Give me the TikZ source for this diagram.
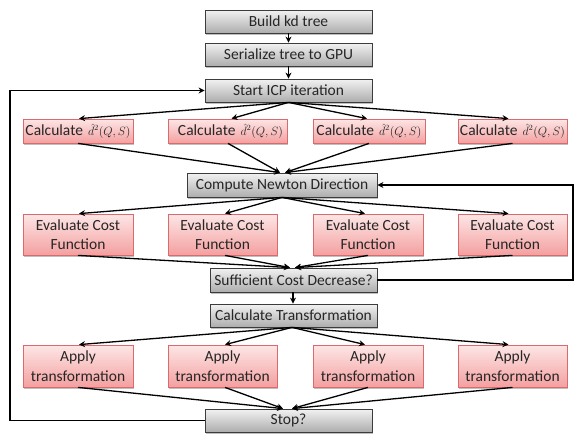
\documentclass[tikz,border=0pt]{standalone}
\usepackage{fontspec}
\setmainfont{Carlito}
\usetikzlibrary{arrows.meta,shadows}
\definecolor{gtop}{HTML}{F2F2F2}
\definecolor{gbot}{HTML}{ADADAD}
\definecolor{gline}{HTML}{3C3C3C}
\definecolor{rtop}{HTML}{FDE6E6}
\definecolor{rbot}{HTML}{F4A0A0}
\definecolor{rline}{HTML}{DA6A6C}
\definecolor{txt}{HTML}{262626}
\newcommand{\dqs}{{\fontsize{11.5}{13}\selectfont$\hat{d}^{2}(Q,S)$}}
\begin{document}
\begin{tikzpicture}[x=1pt,y=-1pt,
  base/.style={rectangle, inner sep=0pt, align=center, text=txt,
    font=\fontsize{15.5}{19.5}\selectfont,
    drop shadow={shadow xshift=1.2pt, shadow yshift=-1.5pt, fill=black, opacity=0.25}},
  gbox/.style={base, draw=gline, line width=0.8pt, top color=gtop, bottom color=gbot,
    minimum width=167pt, minimum height=23pt},
  rbox/.style={base, draw=rline, line width=0.8pt, top color=rtop, bottom color=rbot,
    minimum height=24pt},
  rbig/.style={rbox, minimum height=41pt},
  arr/.style={draw=black, line width=1.3pt, -{Stealth[length=6pt,width=6pt]}}]
\useasboundingbox (0,0) rectangle (574,434);

% gray boxes
\node[gbox] (build)  at (288.5,21.5) {Build kd tree};
\node[gbox] (serial) at (288.5,54.5) {Serialize tree to GPU};
\node[gbox] (start)  at (288.5,90.5) {Start ICP iteration};
\node[gbox, minimum width=190pt, minimum height=24pt] (newton) at (282,185) {Compute Newton Direction};
\node[gbox, minimum height=24pt] (suff) at (293.5,280) {Sufficient Cost Decrease?};
\node[gbox] (calctr) at (293.5,315.5) {Calculate Transformation};
\node[gbox] (stop)   at (288.5,420.5) {Stop?};

% calculate boxes
\node[rbox, minimum width=110pt] (c1) at (78,131)    {Calculate\hspace{1.5pt} \dqs};
\node[rbox, minimum width=119pt] (c2) at (227.5,131) {\hspace*{6pt}Calculate\hspace{1.5pt} \dqs};
\node[rbox, minimum width=112pt] (c3) at (369,131)   {Calculate\hspace{1.5pt} \dqs};
\node[rbox, minimum width=109pt] (c4) at (512.5,131) {Calculate\hspace{1.5pt} \dqs};

% evaluate boxes
\node[rbig, minimum width=110pt] (e1) at (78,234.5)  {Evaluate Cost\\Function};
\node[rbig, minimum width=109pt] (e2) at (222.5,234.5) {Evaluate Cost\\Function};
\node[rbig, minimum width=110pt] (e3) at (368,234.5) {Evaluate Cost\\Function};
\node[rbig, minimum width=109pt] (e4) at (512.5,234.5) {Evaluate Cost\\Function};

% apply boxes
\node[rbig, minimum width=110pt, minimum height=42pt] (a1) at (78,366)  {Apply\\transformation};
\node[rbig, minimum width=109pt, minimum height=42pt] (a2) at (222.5,366) {Apply\\transformation};
\node[rbig, minimum width=110pt, minimum height=42pt] (a3) at (368,366) {Apply\\transformation};
\node[rbig, minimum width=109pt, minimum height=42pt] (a4) at (512.5,366) {Apply\\transformation};

\coordinate (loopL) at (10,0);
\coordinate (loopR) at (573,0);

% straight arrows
\draw[arr] (build) -- (serial);
\draw[arr] (serial) -- (start);
\draw[arr] ([xshift=-0.5pt]suff.south) -- ([xshift=-0.5pt]calctr.north);

% fan out from start
\draw[arr] (start.south) -- ([xshift=1pt]c1.north);
\draw[arr] (start.south) -- ([xshift=4pt]c2.north);
\draw[arr] (start.south) -- ([xshift=-2pt]c3.north);
\draw[arr] (start.south) -- ([xshift=-4pt]c4.north);

% fan in to newton
\draw[arr] (c1.south) -- ([xshift=-2pt]newton.north);
\draw[arr] ([xshift=0.5pt]c2.south) -- ([xshift=-2pt]newton.north);
\draw[arr] (c3.south) -- ([xshift=3pt]newton.north);
\draw[arr] (c4.south) -- ([xshift=3pt]newton.north);

% fan out from newton
\draw[arr] (newton.south) -- ([xshift=1pt]e1.north);
\draw[arr] (newton.south) -- ([xshift=2.5pt]e2.north);
\draw[arr] (newton.south) -- ([xshift=-3pt]e3.north);
\draw[arr] (newton.south) -- ([xshift=-4pt]e4.north);

% fan in to sufficient
\draw[arr] (e1.south) -- ([xshift=-3.5pt]suff.north);
\draw[arr] ([xshift=2.5pt]e2.south) -- ([xshift=-3.5pt]suff.north);
\draw[arr] (e3.south) -- ([xshift=1.5pt]suff.north);
\draw[arr] (e4.south) -- ([xshift=1.5pt]suff.north);

% fan out from calc transformation
\draw[arr] ([xshift=-1.5pt]calctr.south) -- ([xshift=1pt]a1.north);
\draw[arr] ([xshift=-1.5pt]calctr.south) -- ([xshift=2.5pt]a2.north);
\draw[arr] ([xshift=-1.5pt]calctr.south) -- ([xshift=-3pt]a3.north);
\draw[arr] ([xshift=-1.5pt]calctr.south) -- ([xshift=-4pt]a4.north);

% fan in to stop
\draw[arr] (a1.south) -- ([xshift=-5.5pt]stop.north);
\draw[arr] ([xshift=2.5pt]a2.south) -- ([xshift=-5.5pt]stop.north);
\draw[arr] (a3.south) -- ([xshift=3.5pt]stop.north);
\draw[arr] (a4.south) -- ([xshift=3.5pt]stop.north);

% loops
\draw[arr] (suff.east) -- (suff.east -| loopR) |- (newton.east);
\draw[arr] (stop.west) -- (stop.west -| loopL) |- (start.west);
\end{tikzpicture}
\end{document}
